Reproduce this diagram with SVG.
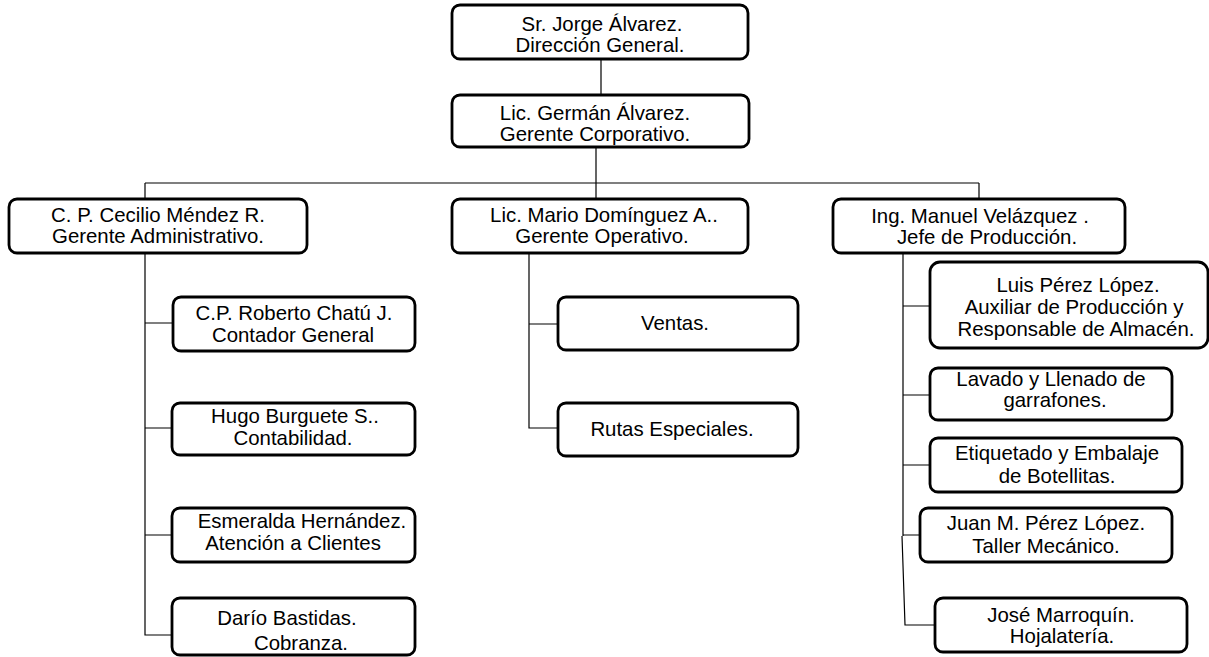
<svg xmlns="http://www.w3.org/2000/svg" width="1209" height="657" viewBox="0 0 1209 657">
<style>
rect.b{fill:#fff;stroke:#000;stroke-width:2.8}
text{font-family:"Liberation Sans",Arial,sans-serif;font-size:20.4px;fill:#000;text-anchor:middle}
.c{fill:none;stroke:#000;stroke-width:1.2}
</style>
<rect width="1209" height="657" fill="#fff"/>
<g id="connectors">
<path class="c" d="M601 59V95M596 147V183M145 183H979M145 183V199M596 183V199M979 183V199"/>
<path class="c" d="M145 253V635H172M145 323H173M145 428H172M145 535H172"/>
<path class="c" d="M529 253V428H558M529 324H558"/>
<path class="c" d="M903 253V536M903 306H930M903 395H930M903 465H930M903 535H920M902 536L905 625H935"/>
</g>
<g id="n1"><rect class="b" x="452" y="5" width="296" height="54" rx="8"/><text x="602" y="31">Sr. Jorge Álvarez.</text><text x="600" y="52">Dirección General.</text></g>
<g id="n2"><rect class="b" x="452" y="95" width="297" height="52" rx="8"/><text x="595" y="120">Lic. Germán  Álvarez.</text><text x="595" y="141">Gerente Corporativo.</text></g>
<g id="n3"><rect class="b" x="9" y="199" width="298" height="54" rx="8"/><text x="158" y="222">C. P. Cecilio Méndez R.</text><text x="158" y="243">Gerente Administrativo.</text></g>
<g id="n4"><rect class="b" x="452" y="199" width="296" height="54" rx="8"/><text x="604" y="222">Lic. Mario Domínguez A..</text><text x="602" y="243">Gerente Operativo.</text></g>
<g id="n5"><rect class="b" x="833" y="199" width="292" height="54" rx="8"/><text x="980" y="223">Ing. Manuel Velázquez  .</text><text x="987" y="244">Jefe de Producción.</text></g>
<g id="n6"><rect class="b" x="173" y="297" width="242" height="54" rx="8"/><text x="294" y="320">C.P. Roberto Chatú J.</text><text x="293" y="342">Contador General</text></g>
<g id="n7"><rect class="b" x="172" y="403" width="243" height="52" rx="8"/><text x="295" y="423">Hugo  Burguete S..</text><text x="293" y="445">Contabilidad.</text></g>
<g id="n8"><rect class="b" x="172" y="508" width="243" height="54" rx="8"/><text x="302" y="528">Esmeralda Hernández.</text><text x="293" y="550">Atención a Clientes</text></g>
<g id="n9"><rect class="b" x="172" y="598" width="243" height="57" rx="8"/><text x="287" y="625">Darío Bastidas.</text><text x="301" y="650">Cobranza.</text></g>
<g id="n10"><rect class="b" x="558" y="297" width="240" height="53" rx="8"/><text x="675" y="330">Ventas.</text></g>
<g id="n11"><rect class="b" x="558" y="403" width="240" height="53" rx="8"/><text x="672" y="436">Rutas Especiales.</text></g>
<g id="n12"><rect class="b" x="930" y="262" width="278" height="86" rx="10"/><text x="1078" y="292">Luis Pérez López.</text><text x="1074" y="314">Auxiliar de Producción y</text><text x="1076" y="336">Responsable de Almacén.</text></g>
<g id="n13"><rect class="b" x="930" y="368" width="242" height="52" rx="8"/><text x="1051" y="386">Lavado y Llenado de</text><text x="1055" y="407">garrafones.</text></g>
<g id="n14"><rect class="b" x="930" y="438" width="252" height="54" rx="8"/><text x="1057" y="460">Etiquetado y Embalaje</text><text x="1057" y="483">de Botellitas.</text></g>
<g id="n15"><rect class="b" x="920" y="508" width="252" height="54" rx="8"/><text x="1046" y="530">Juan M. Pérez López.</text><text x="1046" y="553">Taller Mecánico.</text></g>
<g id="n16"><rect class="b" x="935" y="598" width="252" height="54" rx="8"/><text x="1061" y="622">José Marroquín.</text><text x="1062" y="643">Hojalatería.</text></g>
</svg>
